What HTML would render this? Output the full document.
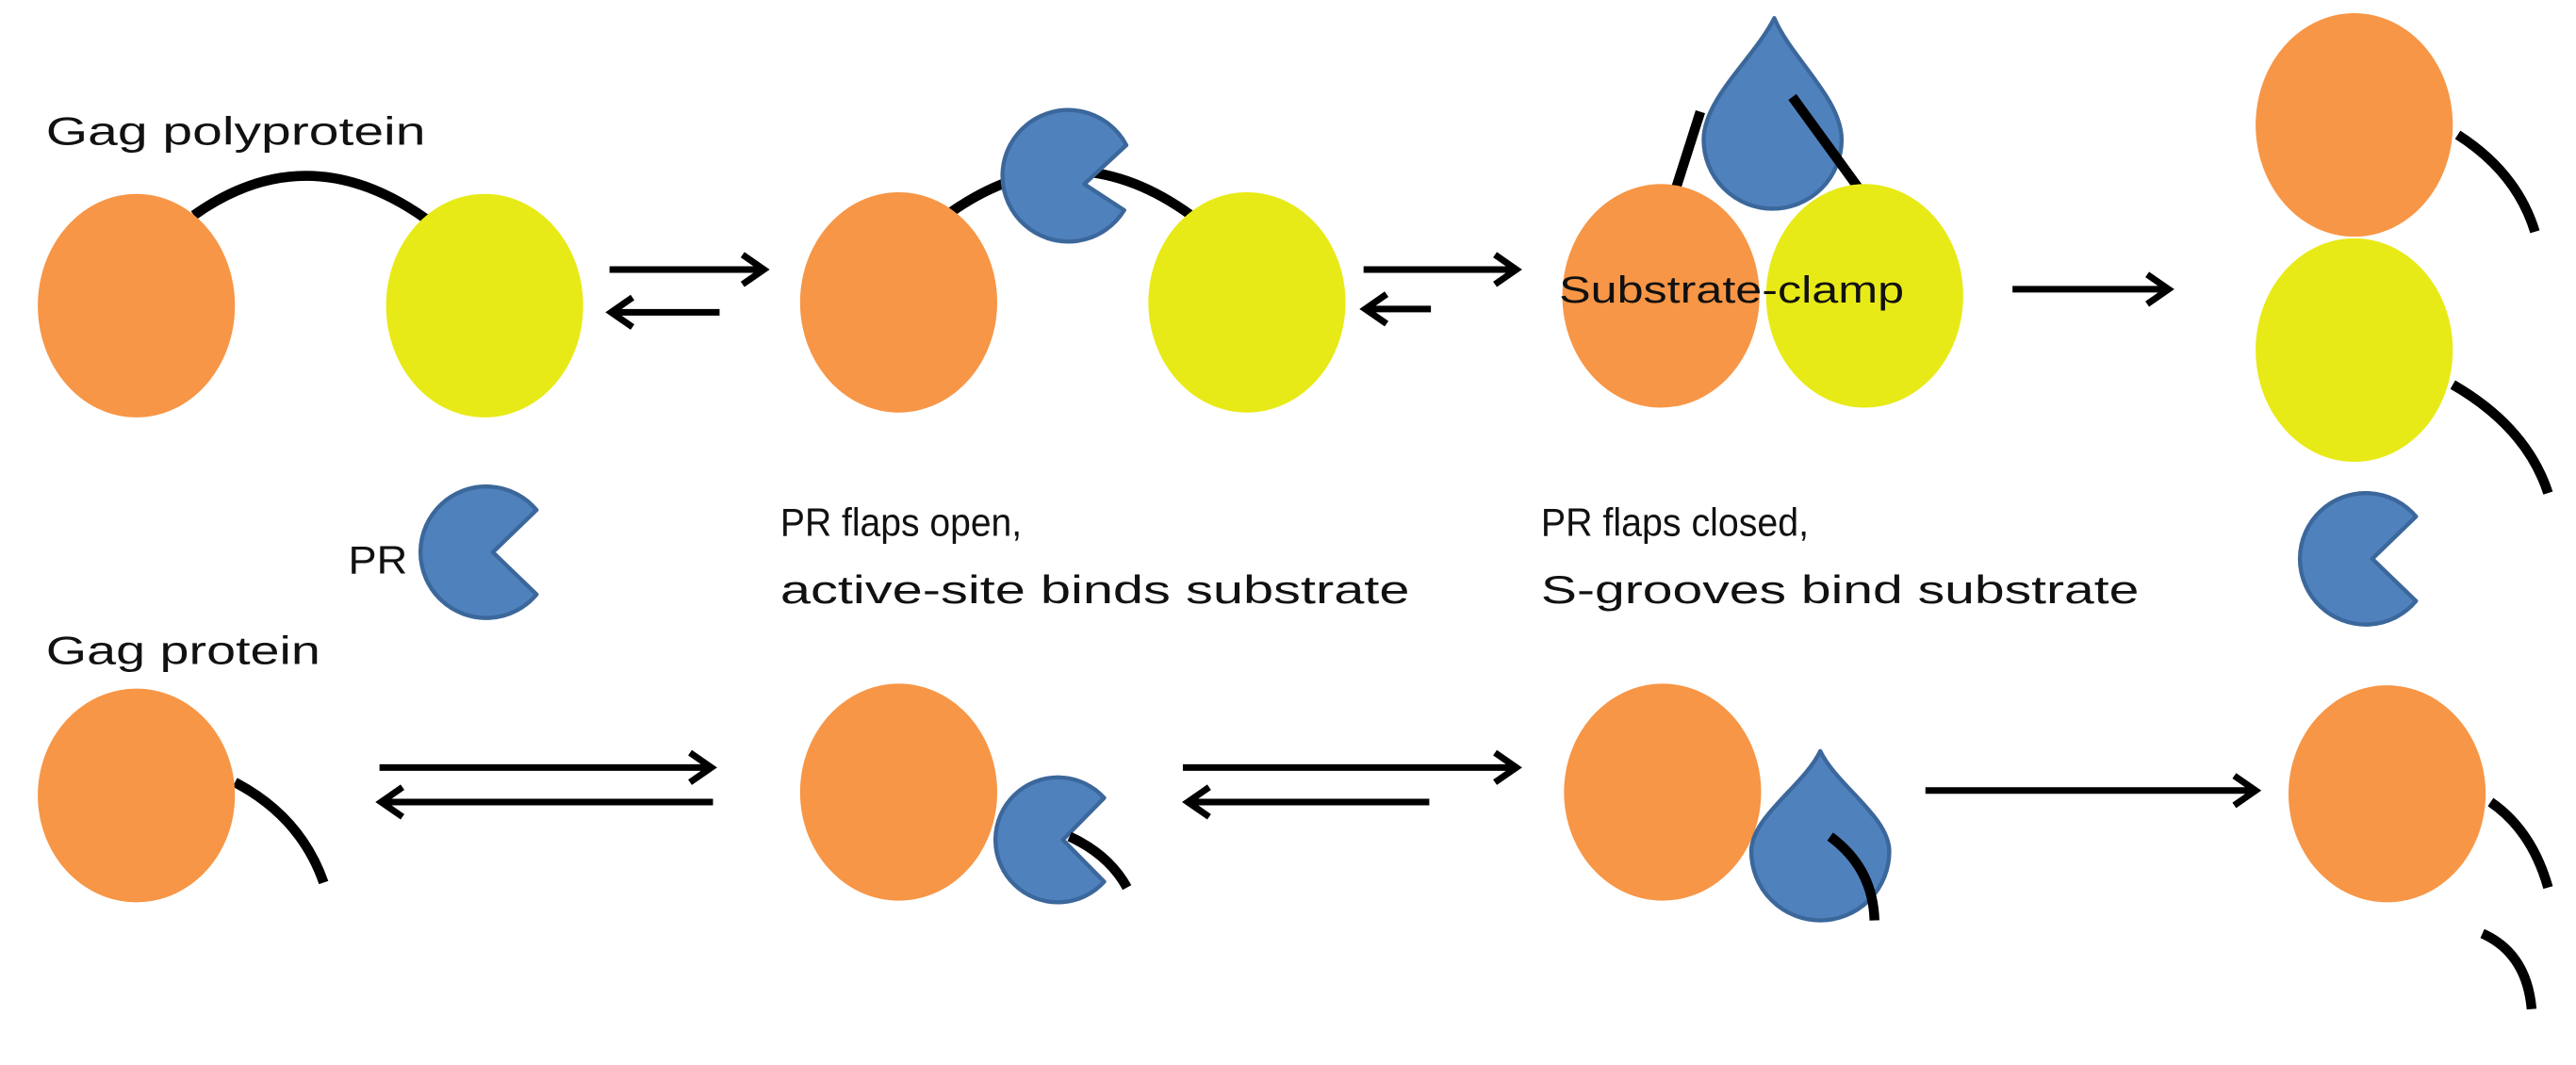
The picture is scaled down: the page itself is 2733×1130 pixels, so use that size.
<!DOCTYPE html>
<html><head><meta charset="utf-8"><style>html,body{margin:0;padding:0;background:#fff}svg{display:block}</style></head>
<body>
<svg width="2733" height="1130" viewBox="0 0 1568 648" preserveAspectRatio="none" xmlns="http://www.w3.org/2000/svg" font-family="Liberation Sans, sans-serif">
<defs>
<style>
.o{fill:#f79646}.y{fill:#e8ea17}.b{fill:#4f81bd;stroke:#3b679b;stroke-width:2.5;stroke-linejoin:round}
.l{fill:none;stroke:#000;stroke-width:6}
.a{fill:none;stroke:#000;stroke-width:4}
.t{font-size:24px;fill:#111}
</style>
</defs>
<rect width="1568" height="648" fill="#fff"/>

<!-- Row 1 -->
<text class="t" x="28" y="88" textLength="231" lengthAdjust="spacingAndGlyphs">Gag polyprotein</text>
<path class="l" d="M118 131 Q187 82 259 133"/>
<ellipse class="o" cx="83" cy="186" rx="60" ry="68"/>
<ellipse class="y" cx="295" cy="186" rx="60" ry="68"/>
<path class="a" d="M371 164 H464 M452 155 L465 164 L452 173"/>
<path class="a" d="M438 190 H373 M385 181 L372 190 L385 199"/>

<path class="l" d="M579 129 Q652 78 725 131"/>
<ellipse class="o" cx="547" cy="184" rx="60" ry="67"/>
<ellipse class="y" cx="759" cy="184" rx="60" ry="67"/>
<path class="b" d="M684.3 127.9 A40 40 0 1 1 685.6 88.3 L660 112 Z"/>
<path class="a" d="M830 164 H922 M910 155 L923 164 L910 173"/>
<path class="a" d="M871 188 H832 M844 179 L831 188 L844 197"/>

<path class="l" d="M1020 115 L1035 68"/>
<path class="b" d="M1080 11 C1090 35 1121 60 1121 85 A42 42 0 1 1 1037 85 C1037 60 1068 35 1080 11 Z"/>
<path class="l" d="M1091 59 L1131 114"/>
<ellipse class="o" cx="1011" cy="180" rx="60" ry="68"/>
<ellipse class="y" cx="1135" cy="180" rx="60" ry="68"/>
<text x="949" y="184" font-size="23" fill="#111" textLength="210" lengthAdjust="spacingAndGlyphs">Substrate-clamp</text>
<path class="a" d="M1225 176 H1319 M1307 167 L1320 176 L1307 185"/>

<ellipse class="o" cx="1433" cy="76" rx="60" ry="68"/>
<path class="l" d="M1496 82 Q1532 105 1543 141"/>
<ellipse class="y" cx="1433" cy="213" rx="60" ry="68"/>
<path class="l" d="M1493 234 Q1538 260 1551 300"/>

<!-- Middle labels -->
<text class="t" x="212" y="349" textLength="36" lengthAdjust="spacingAndGlyphs">PR</text>
<path class="b" d="M326.6 361.7 A40 40 0 1 1 326.6 310.3 L300 336 Z"/>
<text class="t" x="475" y="326" textLength="147" lengthAdjust="spacingAndGlyphs">PR flaps open,</text>
<text class="t" x="475" y="367" textLength="383" lengthAdjust="spacingAndGlyphs">active-site binds substrate</text>
<text class="t" x="938" y="326" textLength="163" lengthAdjust="spacingAndGlyphs">PR flaps closed,</text>
<text class="t" x="938" y="367" textLength="364" lengthAdjust="spacingAndGlyphs">S-grooves bind substrate</text>
<path class="b" d="M1470.6 365.7 A40 40 0 1 1 1470.6 314.3 L1444 340 Z"/>

<!-- Row 2 -->
<text class="t" x="28" y="404" textLength="167" lengthAdjust="spacingAndGlyphs">Gag protein</text>
<path class="l" d="M143 476 Q183 497 197 537"/>
<ellipse class="o" cx="83" cy="484" rx="60" ry="65"/>
<path class="a" d="M231 467 H432 M420 458 L433 467 L420 476"/>
<path class="a" d="M434 488 H233 M245 479 L232 488 L245 497"/>

<ellipse class="o" cx="547" cy="482" rx="60" ry="66"/>
<path class="b" d="M672.1 536.5 A38 38 0 1 1 672.1 485.5 L647 511 Z"/>
<path class="l" d="M651 509 Q675 520 686 540"/>
<path class="a" d="M720 467 H922 M910 458 L923 467 L910 476"/>
<path class="a" d="M870 488 H724 M736 479 L723 488 L736 497"/>

<ellipse class="o" cx="1012" cy="482" rx="60" ry="66"/>
<path class="b" d="M1108 457 C1118 478 1150 497 1150 518 A42 42 0 1 1 1066 518 C1066 497 1098 478 1108 457 Z"/>
<path class="l" d="M1114 509 Q1140 528 1141 560"/>
<path class="a" d="M1172 481 H1372 M1360 472 L1373 481 L1360 490"/>

<ellipse class="o" cx="1453" cy="483" rx="60" ry="66"/>
<path class="l" d="M1516 488 Q1541 505 1551 540"/>
<path class="l" d="M1511 568 Q1538 580 1541 614"/>
</svg>
</body></html>
